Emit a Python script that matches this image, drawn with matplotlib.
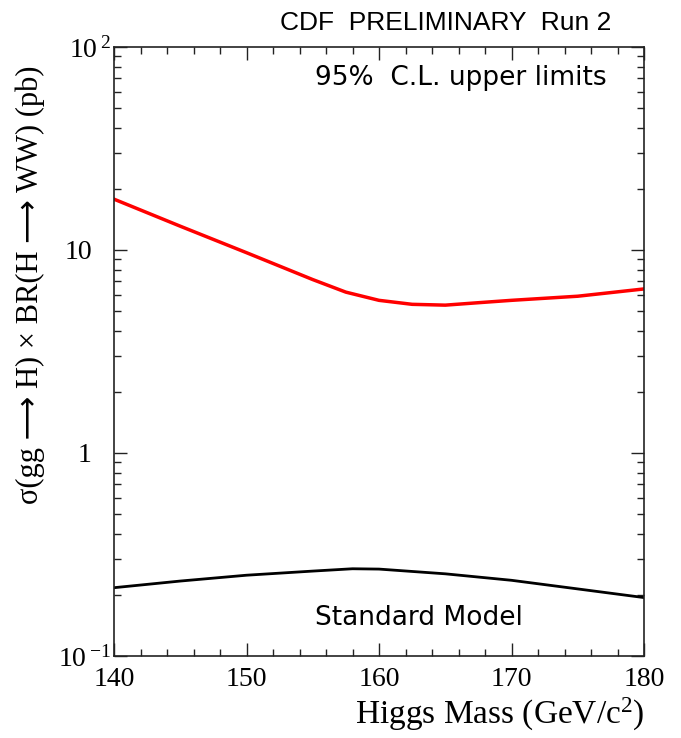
import numpy as np
import matplotlib
matplotlib.use('Agg')
import matplotlib.pyplot as plt
from matplotlib.ticker import FixedLocator, FixedFormatter, LogLocator, NullFormatter

plt.rcParams['font.family'] = ['Liberation Serif', 'DejaVu Serif']
plt.rcParams['mathtext.fontset'] = 'custom'
plt.rcParams['mathtext.rm'] = 'Liberation Serif'
plt.rcParams['mathtext.default'] = 'regular'

# 95% C.L. upper limit (pb) vs Higgs mass
mass_limit = [140, 145, 150, 155, 157.5, 160, 162.5, 165, 167.5, 170, 175, 180]
xsec_limit = [17.8, 13.1, 9.7, 7.15, 6.2, 5.65, 5.4, 5.35, 5.5, 5.65, 5.92, 6.43]

# Standard Model expectation (pb)
mass_sm = [140, 145, 150, 155, 158, 160, 165, 170, 175, 180]
xsec_sm = [0.217, 0.234, 0.250, 0.262, 0.269, 0.268, 0.254, 0.236, 0.214, 0.194]

y_ticks = [0.1, 1, 10, 100]
y_ticklabels = ['$10^{\\,{-1}}$', '1', '10', '$10^{\\,2}$']
x_ticks = [140, 150, 160, 170, 180]

W, H = 681, 738
fig = plt.figure(figsize=(W / 100, H / 100), dpi=100)
ax = fig.add_axes([114 / W, 1 - 656 / H, 530 / W, 609 / H])

ax.plot(mass_limit, xsec_limit, color='#ff0000', lw=2.5)
ax.plot(mass_sm, xsec_sm, color='black', lw=2.0)

ax.set_yscale('log')
ax.set_xlim(140, 180)
ax.set_ylim(0.1, 100)

ax.xaxis.set_major_locator(FixedLocator(x_ticks))
ax.xaxis.set_minor_locator(FixedLocator(np.arange(140, 181, 2)))
ax.yaxis.set_major_locator(FixedLocator(y_ticks))
ax.yaxis.set_major_formatter(FixedFormatter(y_ticklabels))
ax.yaxis.set_minor_locator(LogLocator(base=10, subs=np.arange(2, 10)))
ax.yaxis.set_minor_formatter(NullFormatter())

ax.tick_params(which='both', direction='in', top=True, right=True, width=1.0, color='#222222')
ax.tick_params(which='major', length=9.5)
ax.tick_params(which='minor', length=5)
ax.tick_params(axis='x', which='major', labelsize=20, pad=8)
ax.tick_params(axis='y', which='major', labelsize=20, pad=2)
for s in ax.spines.values():
    s.set_linewidth(1.2)
    s.set_color('#222222')

# plain labels sit further from the axis than the ones with exponents
for t in ax.yaxis.get_major_ticks()[1:3]:
    t.set_pad(16)

ax.set_ylabel('σ(gg ⟶ H) × BR(H ⟶ WW) (pb)', fontsize=22,
              family=['Liberation Serif', 'DejaVu Sans'])
ax.yaxis.set_label_coords(-0.13, 0.61)
ax.set_xlabel('Higgs Mass (GeV/c$^{2}$)', fontsize=24, ha='right', va='top')
ax.xaxis.set_label_coords(1.0, -0.066)

ax.text(0.930, 0.9376, '95%  C.L. upper limits', transform=ax.transAxes,
        ha='right', va='baseline', fontsize=19, family='DejaVu Sans')
ax.text(0.379, 0.051, 'Standard Model', transform=ax.transAxes,
        ha='left', va='baseline', fontsize=19, family='DejaVu Sans')
fig.text(611 / W, 1 - 30 / H, 'CDF  PRELIMINARY  Run 2', ha='right', va='baseline',
         fontsize=19, family='Liberation Sans')

fig.savefig('out.png', dpi=100)
